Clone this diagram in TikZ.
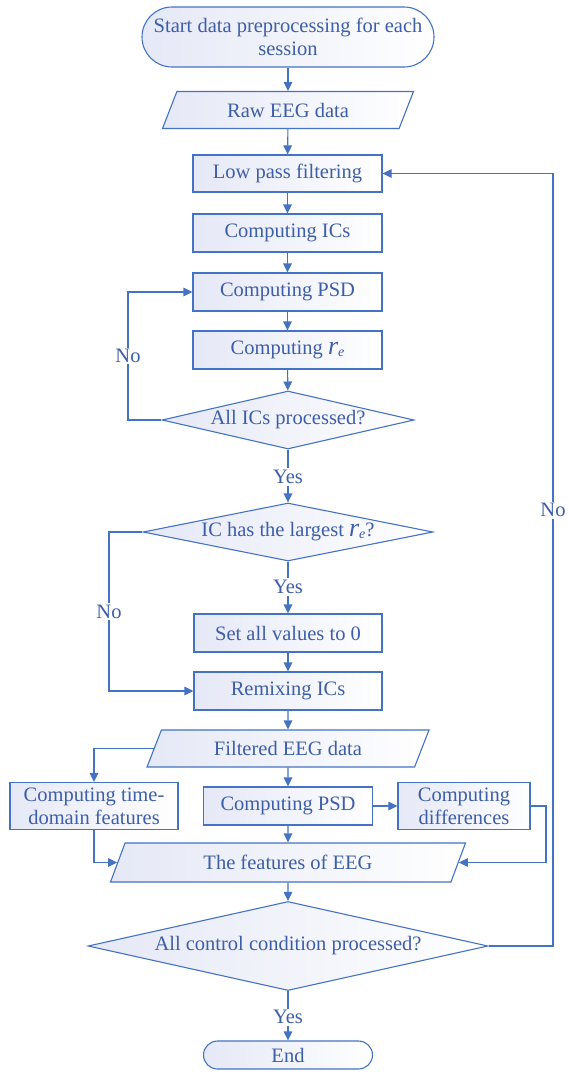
\documentclass[tikz,border=0pt]{standalone}
\usepackage{fontspec}
\setmainfont{Liberation Serif}
\usetikzlibrary{shapes.geometric,arrows.meta}
\definecolor{lineblue}{HTML}{4472C4}
\definecolor{textblue}{HTML}{3D5EA8}
\definecolor{fillblue}{HTML}{E5E8F6}
\newcommand\ff{\fontsize{20.5}{23}\selectfont}
\newcommand\rsub{{\fontsize{26}{26}\selectfont\itshape r}\raisebox{-1.5pt}{\fontsize{14}{14}\selectfont\itshape e}}
\tikzset{
  base/.style={draw=lineblue, line width=1.1pt, left color=fillblue, right color=white, text=textblue, font=\ff, inner sep=2pt, align=center},
  procbox/.style={base, rectangle},
  termbox/.style={base, rectangle, rounded corners=#1},
  iobox/.style={base, trapezium, trapezium left angle=52, trapezium right angle=128, trapezium stretches body},
  decbox/.style={base, diamond, inner sep=0pt},
  lbl/.style={text=textblue, font=\ff, fill=white, inner sep=1.5pt},
  arr/.style={draw=lineblue, line width=1.1pt, -{Triangle[length=9pt,width=8.5pt]}},
  ln/.style={draw=lineblue, line width=1.1pt},
}
\begin{document}
\begin{tikzpicture}[x=1pt,y=-1pt]
\useasboundingbox (0,0) rectangle (569,1072);
\node[termbox=30pt, minimum width=292, minimum height=60] (start) at (288,37) {Start data preprocessing for each\\session};
\node[iobox, minimum width=251, minimum height=37] (raw) at (288,110) {Raw EEG data};
\node[procbox, minimum width=189, minimum height=37] (lpf) at (287.5,173.5) {Low pass filtering};
\node[procbox, minimum width=189, minimum height=38] (ics) at (287.5,233) {Computing ICs};
\node[procbox, minimum width=189, minimum height=38] (psda) at (287.5,292) {Computing PSD};
\node[procbox, minimum width=189, minimum height=38] (re) at (287.5,350) {Computing \rsub};
\node[decbox, aspect=4.3, minimum width=252, minimum height=58] (da) at (288,420) {All ICs processed?};
\node[lbl] (yesa) at (288,477) {Yes};
\node[decbox, aspect=5, minimum width=290, minimum height=58] (db) at (288,532) {IC has the largest \rsub?};
\node[lbl] (yesb) at (288,587) {Yes};
\node[procbox, minimum width=188, minimum height=38] (set) at (288,633) {Set all values to 0};
\node[procbox, minimum width=188, minimum height=38] (remix) at (288,691) {Remixing ICs};
\node[iobox, minimum width=282, minimum height=37] (filt) at (288,748.5) {Filtered EEG data};
\node[procbox, minimum width=168, minimum height=47, inner sep=0pt] (td) at (94,806) {Computing time-\\domain features};
\node[procbox, minimum width=169, minimum height=38] (psdb) at (288,806) {Computing PSD};
\node[procbox, minimum width=132, minimum height=47, inner sep=0pt] (diff) at (464,806) {Computing\\differences};
\node[iobox, minimum width=355, minimum height=39] (feat) at (288,862.5) {The features of EEG};
\node[decbox, aspect=4.5, minimum width=400, minimum height=89] (dc) at (288,946) {All control condition processed?};
\node[lbl] (yesc) at (288,1017) {Yes};
\node[termbox=14pt, minimum width=169, minimum height=28, inner sep=0pt] (end) at (288,1055) {End};
\coordinate (ka) at (128,420);
\coordinate (kb) at (109,532);
\coordinate (kc) at (553,946);
\coordinate (kd) at (546,806);

\draw[arr] (start) -- (raw);
\draw[arr] (raw) -- (lpf);
\draw[arr] (lpf) -- (ics);
\draw[arr] (ics) -- (psda);
\draw[arr] (psda) -- (re);
\draw[arr] (re) -- (da);
\draw[ln] (da.south) -- (yesa.north);
\draw[arr] (yesa.south) -- (db.north);
\draw[ln] (db.south) -- (yesb.north);
\draw[arr] (yesb.south) -- (set.north);
\draw[arr] (set) -- (remix);
\draw[arr] (remix) -- (filt);
\draw[arr] (filt.south) -- (psdb.north);
\draw[arr] (filt.west) -| (td.north);
\draw[arr] (psdb) -- (diff);
\draw[arr] (psdb.south) -- (feat.north);
\draw[arr] (td.south) |- (feat.west);
\draw[arr] (diff.east) -- (kd) |- (feat.east);
\draw[arr] (feat.south) -- (dc.north);
\draw[ln] (dc.south) -- (yesc.north);
\draw[arr] (yesc.south) -- (end.north);
\draw[arr] (da.west) -- (ka) |- (psda.west) node[lbl, pos=0.25] {No};
\draw[arr] (db.west) -- (kb) |- (remix.west) node[lbl, pos=0.25] {No};
\draw[arr] (dc.east) -- (kc) |- (lpf.east) node[lbl, pos=0.282] {No};
\end{tikzpicture}
\end{document}
